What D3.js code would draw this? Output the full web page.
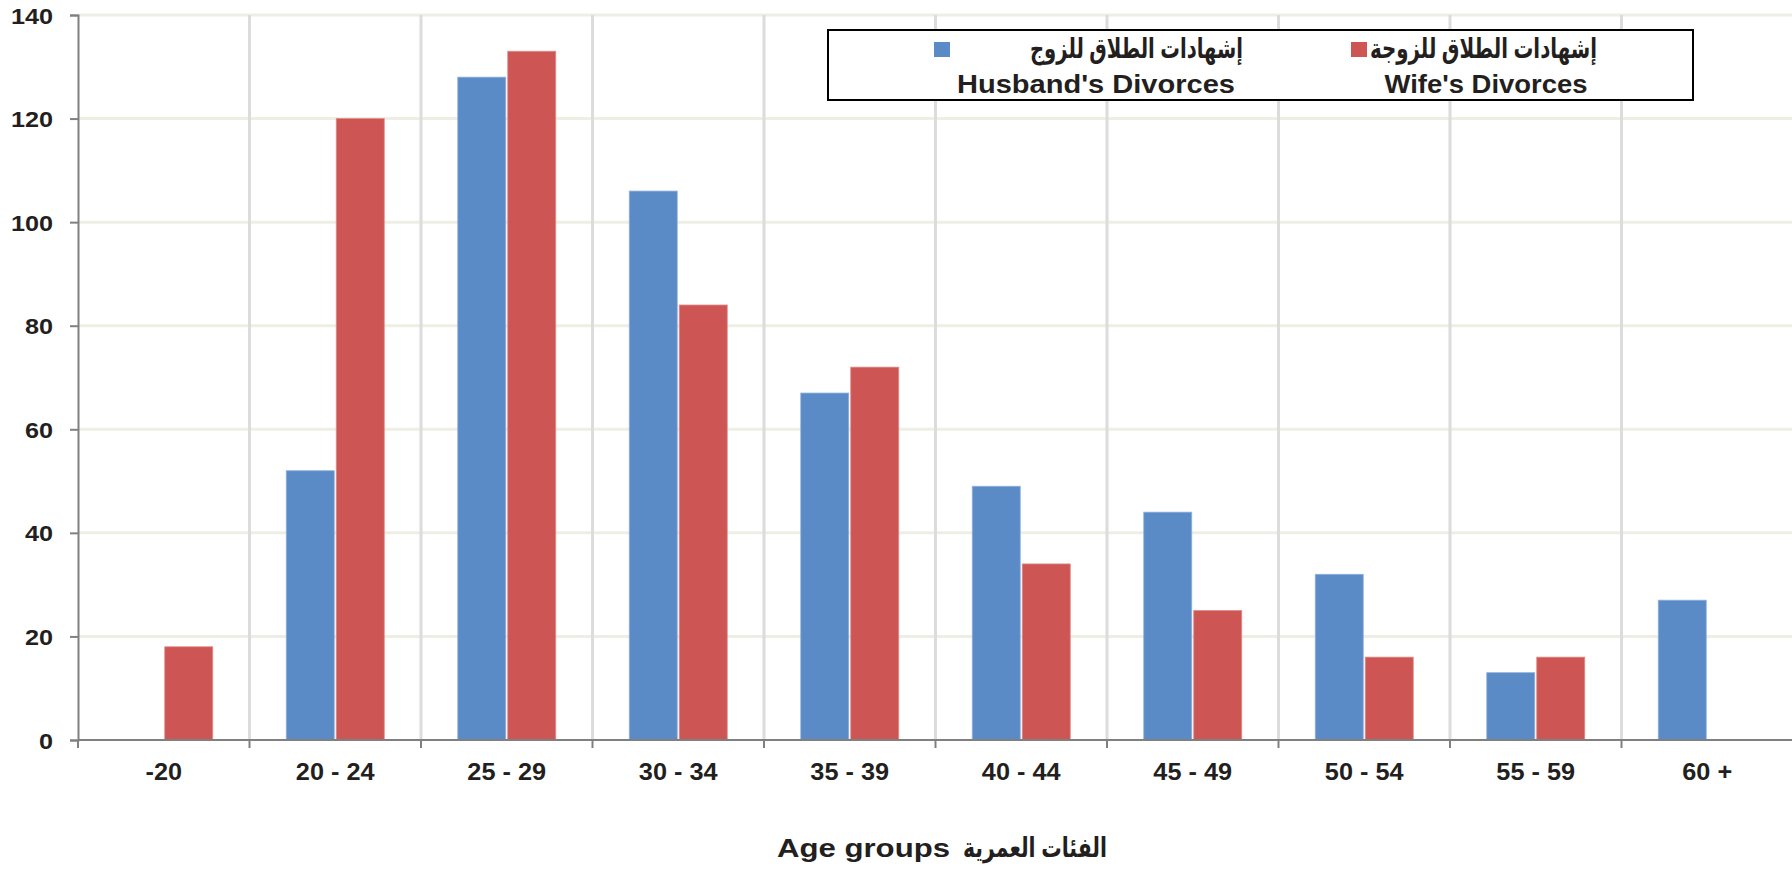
<!DOCTYPE html>
<html>
<head>
<meta charset="utf-8">
<script src="https://cdn.jsdelivr.net/npm/d3@7"></script>
<style>
  html, body { margin: 0; padding: 0; background: #ffffff; }
  svg { display: block; }
  text { font-family: "Liberation Sans", Arial, "DejaVu Sans", sans-serif; font-weight: bold; fill: #231f20; }
</style>
</head>
<body>
<svg id="chart" width="1792" height="870"></svg>
<script>
const categories = ["-20", "20 - 24", "25 - 29", "30 - 34", "35 - 39", "40 - 44", "45 - 49", "50 - 54", "55 - 59", "60 +"];
const husbandValues = [null, 52, 128, 106, 67, 49, 44, 32, 13, 27];
const wifeValues = [18, 120, 133, 84, 72, 34, 25, 16, 16, null];
const yTicks = [0, 20, 40, 60, 80, 100, 120, 140];
const seriesKeys = ["husband", "wife"];
const seriesColors = { husband: "#5b8bc7", wife: "#cd5553" };
const seriesStroke = { husband: "#8fb1dc", wife: "#e08a88" };
const legendArabic = { husband: "إشهادات الطلاق للزوج", wife: "إشهادات الطلاق للزوجة" };
const legendEnglish = { husband: "Husband's Divorces", wife: "Wife's Divorces" };
const axisTitleEnglish = "Age groups";
const axisTitleArabic = "الفئات العمرية";

const svg = d3.select("#chart");
const plotLeft = 78, plotRight = 1793, plotTop = 15, plotBottom = 740;

const x0 = d3.scaleBand().domain(categories).range([plotLeft, plotRight]).paddingInner(0).paddingOuter(0);
const x1 = d3.scaleBand().domain(seriesKeys).range([0, x0.bandwidth()]).paddingInner(0.04).paddingOuter(0.735);
const y = d3.scaleLinear().domain([0, 140]).range([plotBottom, plotTop]);

function stretch(sel, k) {
  sel.each(function () {
    const w = this.getComputedTextLength();
    d3.select(this).attr("textLength", w * k).attr("lengthAdjust", "spacingAndGlyphs");
  });
}

// horizontal gridlines
svg.append("g").selectAll("line").data(yTicks.filter(d => d > 0)).join("line")
  .attr("x1", plotLeft).attr("x2", plotRight)
  .attr("y1", d => y(d)).attr("y2", d => y(d))
  .attr("stroke", "#efeee4").attr("stroke-width", 3);

// vertical gridlines at band boundaries
svg.append("g").selectAll("line").data(categories.slice(1)).join("line")
  .attr("x1", d => x0(d)).attr("x2", d => x0(d))
  .attr("y1", plotTop).attr("y2", plotBottom)
  .attr("stroke", "#dcdcdc").attr("stroke-width", 3);

// bars
const rows = categories.map((c, i) => ({ cat: c, husband: husbandValues[i], wife: wifeValues[i] }));
const groups = svg.append("g").selectAll("g").data(rows).join("g")
  .attr("transform", d => `translate(${x0(d.cat)},0)`);
groups.selectAll("rect")
  .data(d => seriesKeys.filter(k => d[k] != null).map(k => ({ key: k, value: d[k] })))
  .join("rect")
  .attr("x", d => x1(d.key))
  .attr("width", x1.bandwidth())
  .attr("y", d => y(d.value))
  .attr("height", d => y(0) - y(d.value))
  .attr("fill", d => seriesColors[d.key])
  .attr("stroke", d => seriesStroke[d.key])
  .attr("stroke-width", 0.8);

// y axis
const yAxis = d3.axisLeft(y).tickValues(yTicks).tickSize(8).tickPadding(17).tickFormat(d3.format("d"));
const gy = svg.append("g").attr("transform", `translate(${plotLeft},0)`).call(yAxis);
gy.attr("font-family", null).attr("font-size", null);
gy.select(".domain").attr("stroke", "#808080").attr("stroke-width", 2);
gy.selectAll(".tick line").attr("stroke", "#808080").attr("stroke-width", 2);
gy.selectAll(".tick text").style("font-size", "22.5px").attr("fill", "#231f20").attr("dy", "0.36em");
stretch(gy.selectAll(".tick text"), 1.12);

// x axis
const gx = svg.append("g").attr("transform", `translate(0,${plotBottom})`);
gx.append("line").attr("x1", plotLeft).attr("x2", plotRight).attr("y1", 0).attr("y2", 0)
  .attr("stroke", "#808080").attr("stroke-width", 2);
gx.selectAll("line.tk").data(categories).join("line").attr("class", "tk")
  .attr("x1", d => x0(d)).attr("x2", d => x0(d)).attr("y1", 0).attr("y2", 8)
  .attr("stroke", "#808080").attr("stroke-width", 2);
const xl = gx.selectAll("text.lbl").data(categories).join("text").attr("class", "lbl")
  .attr("x", d => x0(d) + x0.bandwidth() / 2)
  .attr("y", 40)
  .attr("text-anchor", "middle")
  .style("font-size", "23px")
  .text(d => d);
stretch(xl, 1.1);

// axis title
svg.append("text").attr("x", 777).attr("y", 857).attr("text-anchor", "start")
  .style("font-size", "25px").text(axisTitleEnglish).attr("textLength", 173).attr("lengthAdjust", "spacingAndGlyphs");
svg.append("text").attr("x", 963).attr("y", 857).attr("text-anchor", "start")
  .style("font-size", "27px").text(axisTitleArabic).attr("textLength", 144).attr("lengthAdjust", "spacingAndGlyphs");

// legend
const lg = svg.append("g");
lg.append("rect").attr("x", 828).attr("y", 30).attr("width", 865).attr("height", 70)
  .attr("fill", "#ffffff").attr("stroke", "#000000").attr("stroke-width", 2);
const legendLayout = {
  husband: { sq: 934, arEnd: 1243, arW: 213, enC: 1096, enW: 278 },
  wife: { sq: 1351, arEnd: 1597, arW: 227, enC: 1486, enW: 203 }
};
seriesKeys.forEach(k => {
  const L = legendLayout[k];
  lg.append("rect").attr("x", L.sq).attr("y", 42).attr("width", 16).attr("height", 15).attr("fill", seriesColors[k]);
  lg.append("text").attr("x", L.arEnd - L.arW).attr("y", 58).attr("text-anchor", "start")
    .style("font-size", "28px").attr("textLength", L.arW).attr("lengthAdjust", "spacingAndGlyphs")
    .text(legendArabic[k]);
  lg.append("text").attr("x", L.enC).attr("y", 93).attr("text-anchor", "middle")
    .style("font-size", "25.5px").attr("textLength", L.enW).attr("lengthAdjust", "spacingAndGlyphs")
    .text(legendEnglish[k]);
});
</script>
</body>
</html>
